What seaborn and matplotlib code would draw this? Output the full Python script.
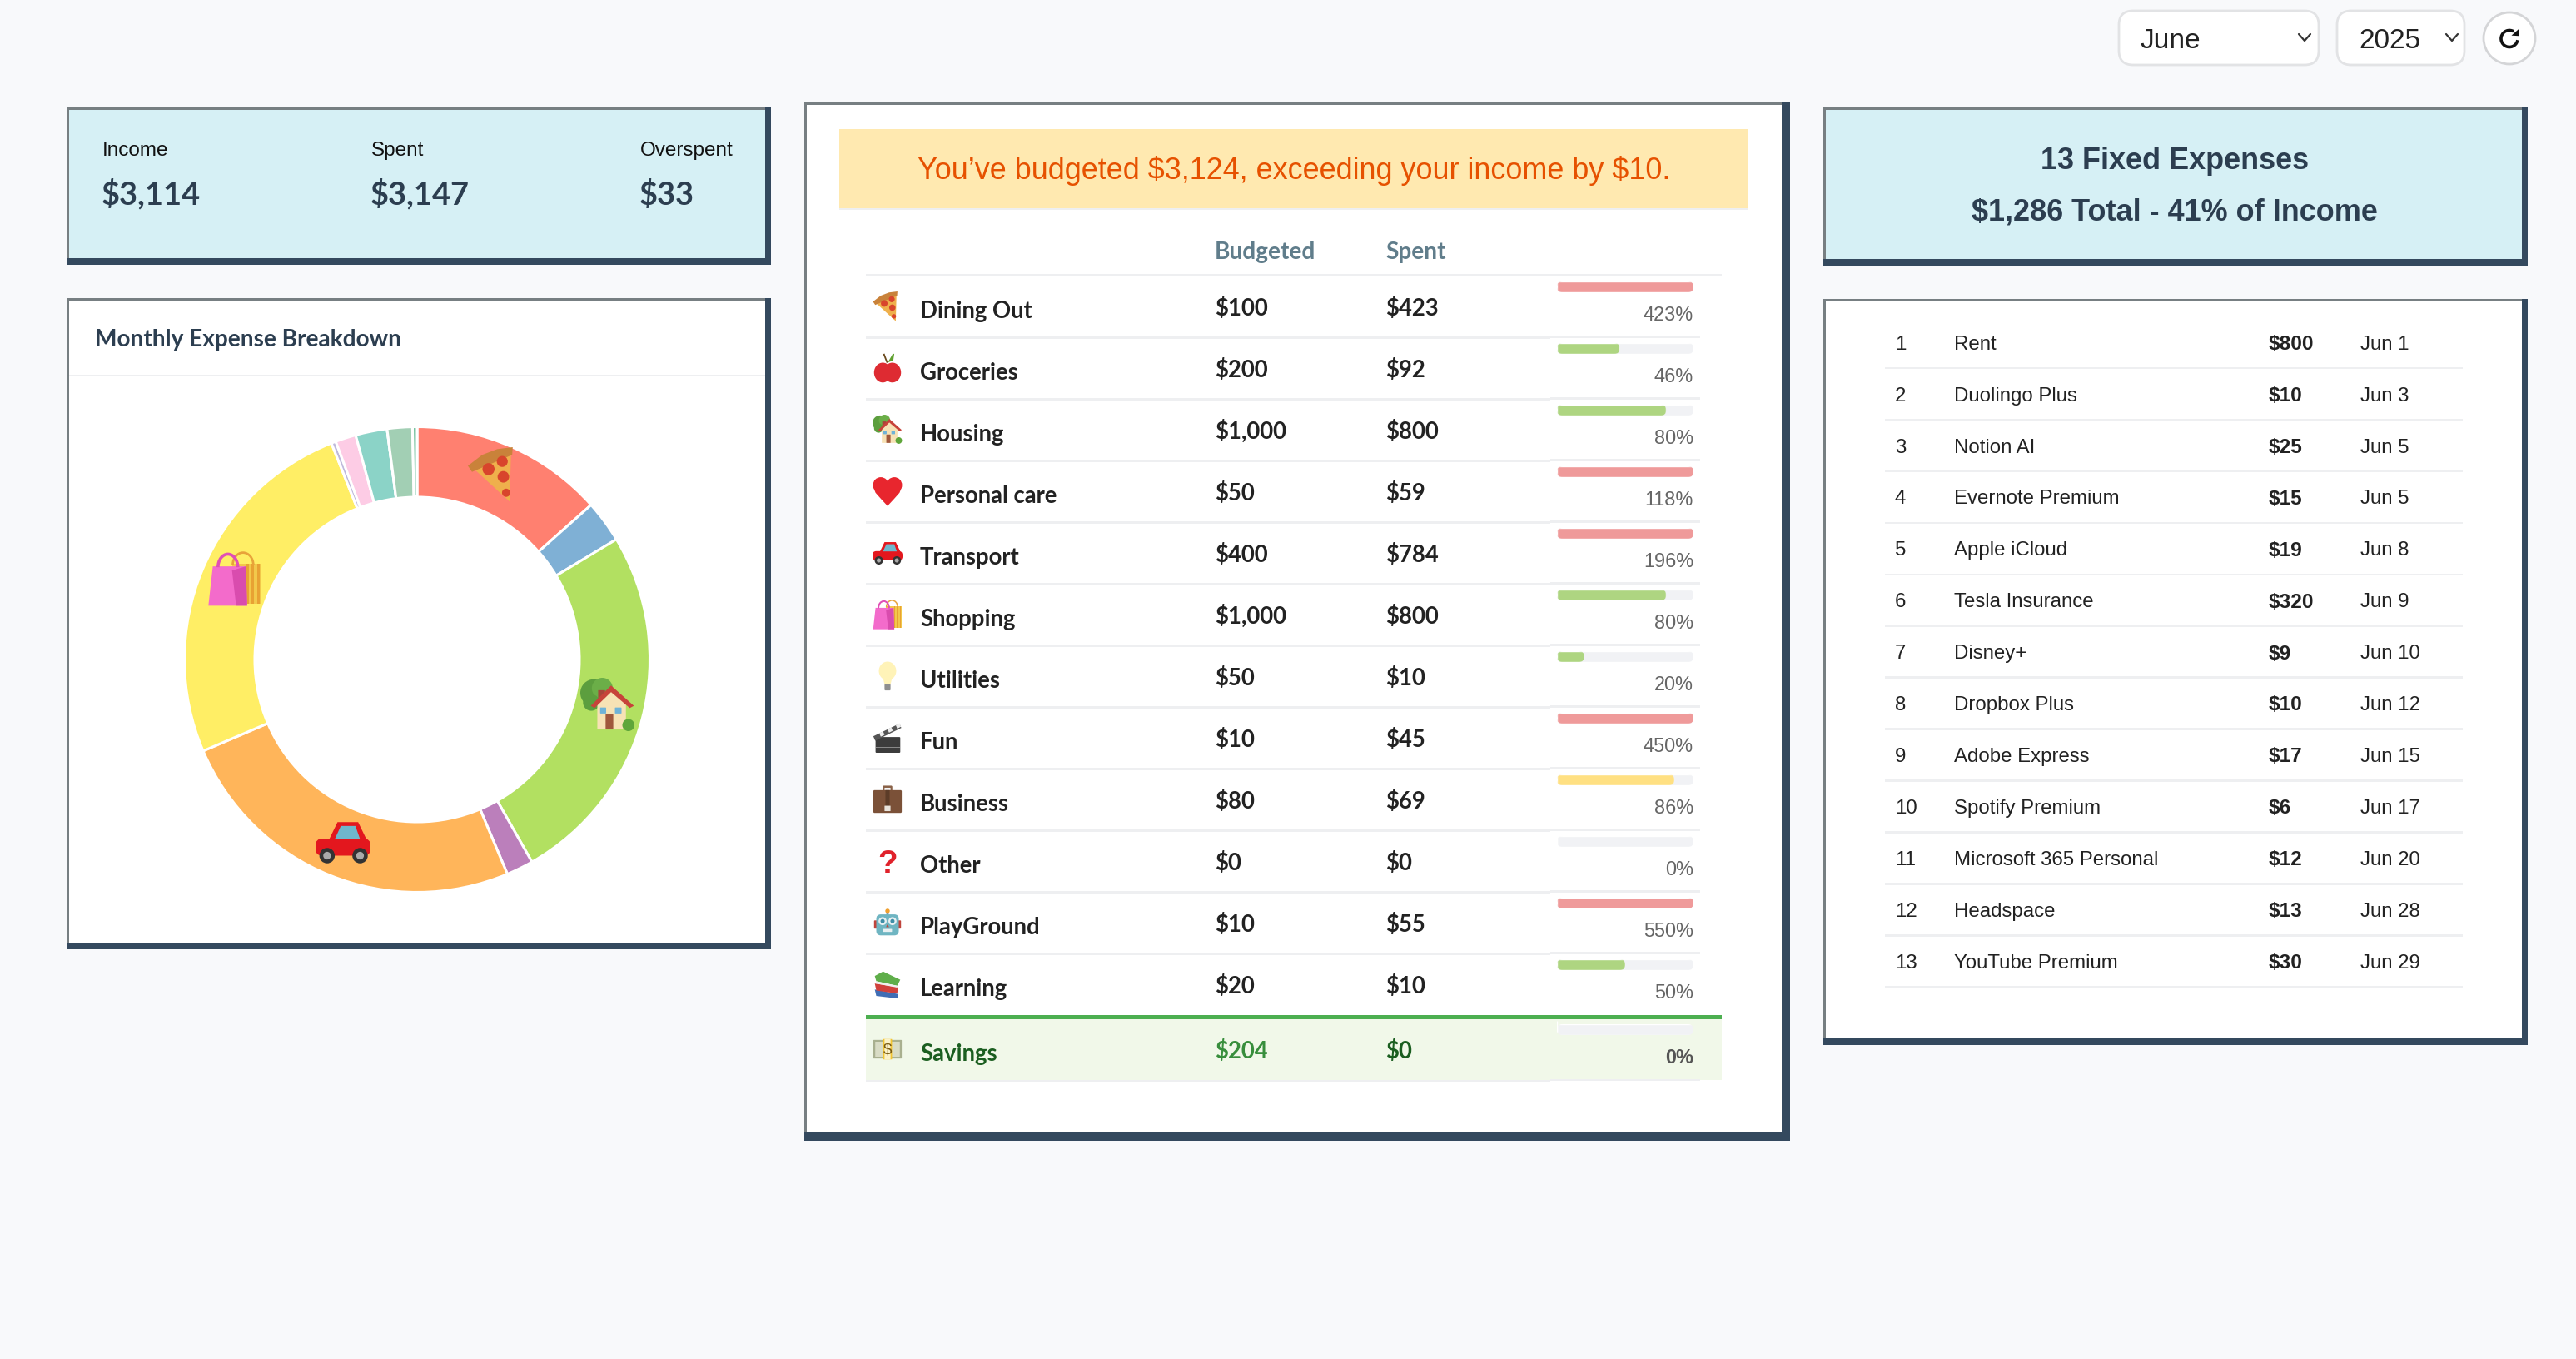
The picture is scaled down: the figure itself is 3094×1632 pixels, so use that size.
import matplotlib
matplotlib.use("Agg")
import matplotlib.pyplot as plt
import seaborn as sns
import pandas as pd
from matplotlib.lines import Line2D
from matplotlib.patches import Arc, Circle, Ellipse, FancyBboxPatch, Polygon, Rectangle
from matplotlib.transforms import IdentityTransform

# --------------------------------------------------------------------
# DATA
# --------------------------------------------------------------------
categories = ["Dining Out", "Groceries", "Housing", "Personal care", "Transport", "Shopping",
              "Utilities", "Fun", "Business", "Other", "PlayGround", "Learning", "Savings"]
icons = ["pizza", "apple", "house", "heart", "car", "bags", "bulb", "clapper", "case",
         "question", "robot", "books", "money"]
budgeted = [100, 200, 1000, 50, 400, 1000, 50, 10, 80, 0, 10, 20, 204]
spent = [423, 92, 800, 59, 784, 800, 10, 45, 69, 0, 55, 10, 0]
percent = [423, 46, 80, 118, 196, 80, 20, 450, 86, 0, 550, 50, 0]

slice_colors = ["#FF8070", "#7FB0D5", "#B2E061", "#BB7FBB", "#FFB55A", "#FFEE65",
                "#BEB9DB", "#FDCCE5", "#8BD3C7", "#C9C9C9", "#A2CFB4", "#78C2A0"]

kpi_labels = ["Income", "Spent", "Overspent"]
kpi_values = ["$3,114", "$3,147", "$33"]

fixed_names = ["Rent", "Duolingo Plus", "Notion AI", "Evernote Premium", "Apple iCloud",
               "Tesla Insurance", "Disney+", "Dropbox Plus", "Adobe Express", "Spotify Premium",
               "Microsoft 365 Personal", "Headspace", "YouTube Premium"]
fixed_amounts = [800, 10, 25, 15, 19, 320, 9, 10, 17, 6, 12, 13, 30]
fixed_dates = ["Jun 1", "Jun 3", "Jun 5", "Jun 5", "Jun 8", "Jun 9", "Jun 10", "Jun 12",
               "Jun 15", "Jun 17", "Jun 20", "Jun 28", "Jun 29"]

# --------------------------------------------------------------------
# SETUP
# --------------------------------------------------------------------
W, H = 3094, 1632
DARK = "#34495E"
NAVY = "#2C3E50"
LINE = "#EEEFF1"
ROW_H = 74

sns.set_theme(style="white")
plt.rcParams["font.family"] = ["Liberation Sans", "DejaVu Sans"]

fig = plt.figure(figsize=(W / 100, H / 100), dpi=100, facecolor="#F8F9FB")


def pixel_axes(zorder):
    ax = fig.add_axes([0, 0, 1, 1], zorder=zorder)
    ax.set_xlim(0, W)
    ax.set_ylim(H, 0)
    ax.axis("off")
    ax.patch.set_alpha(0)
    return ax


def sub_axes(x0, y0, x1, y1, zorder=1):
    return fig.add_axes([x0 / W, 1 - y1 / H, (x1 - x0) / W, (y1 - y0) / H], zorder=zorder)


bg = pixel_axes(0)
top = pixel_axes(5)


def txt(x, y, s, px, color="#222222", family="Liberation Sans", weight="normal", ha="left"):
    # y is the middle of the digits/capitals, px is the css-like font size in pixels
    top.text(x, y + 0.36 * px, s, fontsize=px * 0.72, color=color, family=family,
             fontweight=weight, ha=ha, va="baseline", parse_math=False)


def panel(x0, y0, x1, y1, fill):
    bg.add_patch(Rectangle((x0, y0), x1 - x0, y1 - y0, fc=fill, ec="none"))
    bg.add_patch(Rectangle((x0, y0), x1 - x0, 2.5, fc="#777F82", ec="none"))
    bg.add_patch(Rectangle((x0, y0), 2.5, y1 - y0, fc="#777F82", ec="none"))
    bg.add_patch(Rectangle((x1 - 7, y0), 7, y1 - y0, fc=DARK, ec="none"))
    bg.add_patch(Rectangle((x0, y1 - 8), x1 - x0, 8, fc=DARK, ec="none"))


def hline(x0, x1, y, color=LINE, lw=3):
    bg.add_patch(Rectangle((x0, y - lw / 2), x1 - x0, lw, fc=color, ec="none"))


# --------------------------------------------------------------------
# ICONS (no colour emoji font here, so they are drawn)
# --------------------------------------------------------------------
def draw_icon(name, cx, cy, s, zorder=6):
    def poly(pts, c):
        top.add_patch(Polygon([(cx + s * x, cy + s * y) for x, y in pts], fc=c, ec="none", zorder=zorder))

    def disc(x, y, rx, c, ry=None):
        top.add_patch(Ellipse((cx + s * x, cy + s * y), 2 * s * rx, 2 * s * (ry or rx), fc=c, ec="none", zorder=zorder))

    def box(x0, y0, x1, y1, c, r=0.08):
        top.add_patch(FancyBboxPatch((cx + s * x0, cy + s * y0), s * (x1 - x0), s * (y1 - y0),
                                     boxstyle=f"round,pad=0,rounding_size={s * r}", fc=c, ec="none", zorder=zorder))

    if name == "pizza":
        poly([(-0.85, -0.3), (0.6, -0.9), (0.55, 0.98)], "#EFB04C")
        poly([(-0.97, -0.32), (-0.45, -0.72), (0.1, -0.93), (0.66, -1.0), (0.64, -0.72), (-0.82, -0.1)], "#C9823A")
        disc(-0.22, -0.2, 0.22, "#D8452C")
        disc(0.28, -0.48, 0.2, "#D8452C")
        disc(0.32, 0.08, 0.21, "#D8452C")
        disc(0.42, 0.66, 0.15, "#D8452C")
    elif name == "apple":
        disc(-0.32, 0.3, 0.58, "#DE2B32", 0.66)
        disc(0.32, 0.3, 0.58, "#DE2B32", 0.66)
        poly([(-0.3, -0.93), (-0.2, -0.97), (0.03, -0.35), (-0.07, -0.35)], "#6B4A1E")
        poly([(0.02, -0.38), (0.35, -0.95), (0.45, -0.95), (0.38, -0.5)], "#5FA02E")
    elif name == "house":
        disc(-0.5, -0.45, 0.5, "#5C9E3E")
        disc(-0.2, -0.62, 0.38, "#6BAE48")
        disc(-0.6, -0.1, 0.3, "#5C9E3E")
        box(-0.35, -0.55, -0.1, -0.1, "#A8443A", 0.01)
        poly([(-0.38, 0.88), (-0.38, -0.1), (0.12, -0.55), (0.66, -0.1), (0.66, 0.88)], "#F7E2B5")
        poly([(-0.62, 0.02), (0.12, -0.72), (0.95, 0.02), (0.8, 0.1), (0.12, -0.48), (-0.48, 0.1)], "#C7433A")
        box(-0.08, 0.32, 0.2, 0.88, "#A0583C", 0.02)
        box(-0.28, 0.08, -0.06, 0.3, "#6FB3D8", 0.02)
        box(0.26, 0.08, 0.5, 0.3, "#6FB3D8", 0.02)
        disc(0.75, 0.72, 0.22, "#5FA63A")
    elif name == "heart":
        disc(-0.45, -0.42, 0.52, "#E8262E")
        disc(0.45, -0.42, 0.52, "#E8262E")
        poly([(-0.96, -0.3), (-0.8, 0.1), (-0.4, 0.55), (0.0, 0.98), (0.4, 0.55), (0.8, 0.1), (0.96, -0.3), (0, -0.4)], "#E8262E")
    elif name == "car":
        box(-1.0, -0.12, 1.0, 0.5, "#E3171E", 0.25)
        poly([(-0.55, 0.0), (-0.2, -0.72), (0.55, -0.72), (0.85, -0.1), (0.9, 0.1)], "#E3171E")
        poly([(-0.3, -0.1), (-0.08, -0.58), (0.45, -0.58), (0.62, -0.1)], "#6FB7CC")
        disc(-0.58, 0.5, 0.28, "#333333")
        disc(0.62, 0.5, 0.28, "#333333")
        disc(-0.58, 0.5, 0.14, "#AAAAAA")
        disc(0.62, 0.5, 0.14, "#AAAAAA")
    elif name == "bags":
        poly([(-0.1, -0.55), (0.95, -0.55), (0.95, 0.9), (-0.1, 0.9)], "#F2C84B")
        for i in range(3):
            poly([(0.42 + i * 0.2, -0.55), (0.5 + i * 0.2, -0.55), (0.5 + i * 0.2, 0.9), (0.42 + i * 0.2, 0.9)], "#E8A233")
        top.add_patch(Arc((cx + s * 0.3, cy - s * 0.5), s * 0.75, s * 0.9, theta1=180, theta2=360,
                          color="#E8A33A", lw=s * 0.06, zorder=zorder))
        poly([(-0.8, -0.45), (0.4, -0.45), (0.45, 0.98), (-0.96, 0.98)], "#F36BCB")
        poly([(-0.1, -0.3), (0.4, -0.45), (0.45, 0.98), (0.05, 0.98)], "#D94CAE")
        top.add_patch(Arc((cx - s * 0.25, cy - s * 0.42), s * 0.72, s * 0.95, theta1=180, theta2=360,
                          color="#E04FB5", lw=s * 0.08, zorder=zorder))
    elif name == "bulb":
        disc(0, -0.35, 0.58, "#FFF3B8", 0.62)
        poly([(-0.32, 0.05), (0.32, 0.05), (0.2, 0.55), (-0.2, 0.55)], "#FFF3B8")
        box(-0.2, 0.53, 0.2, 0.95, "#8E8E8E", 0.06)
    elif name == "clapper":
        box(-0.8, -0.05, 0.85, 1.0, "#3C3C3C", 0.06)
        poly([(-0.95, -0.1), (0.8, -0.95), (0.92, -0.66), (-0.82, 0.2)], "#555555")
        for i in range(3):
            u = -0.55 + i * 0.55
            poly([(u, -0.3 - i * 0.27), (u + 0.25, -0.43 - i * 0.27), (u + 0.35, -0.2 - i * 0.27), (u + 0.1, -0.07 - i * 0.27)], "#EEEEEE")
        poly([(-0.8, 0.6), (0.85, 0.6), (0.85, 0.66), (-0.8, 0.66)], "#888888")
    elif name == "case":
        box(-0.32, -0.92, 0.32, -0.45, "#8A6248", 0.08)
        box(-0.2, -0.78, 0.2, -0.45, "#F5F5F5", 0.02)
        box(-0.95, -0.62, 0.95, 0.9, "#7B5138", 0.08)
        box(-0.14, -0.62, 0.14, 0.5, "#5C3C28", 0.01)
        box(-0.2, 0.42, 0.2, 0.78, "#E8E4DC", 0.02)
    elif name == "question":
        top.text(cx, cy + 0.78 * s, "?", fontsize=s * 1.55, color="#E0222B", fontweight="bold",
                 ha="center", va="baseline", zorder=zorder)
    elif name == "robot":
        box(-0.08, -0.8, 0.08, -0.5, "#8A9AA0", 0.02)
        disc(0, -0.78, 0.15, "#F0A030")
        box(-0.9, -0.15, -0.7, 0.4, "#C0453C", 0.05)
        box(0.7, -0.15, 0.9, 0.4, "#C0453C", 0.05)
        box(-0.75, -0.55, 0.75, 0.85, "#6FB5C2", 0.3)
        disc(-0.33, -0.1, 0.27, "#E8F0F2")
        disc(0.33, -0.1, 0.27, "#E8F0F2")
        disc(-0.33, -0.1, 0.14, "#3E8FA8")
        disc(0.33, -0.1, 0.14, "#3E8FA8")
        poly([(0, 0.1), (0.1, 0.3), (-0.1, 0.3)], "#C0453C")
        box(-0.3, 0.42, 0.3, 0.62, "#E8F0F2", 0.03)
    elif name == "books":
        poly([(-0.85, 0.35), (0.7, 0.65), (0.68, 0.95), (-0.75, 0.78)], "#3F6DB5")
        poly([(-0.85, -0.05), (0.7, 0.2), (0.65, 0.62), (-0.75, 0.42)], "#D0413C")
        poly([(-0.85, -0.55), (-0.3, -0.85), (0.85, -0.3), (0.65, 0.1), (-0.75, -0.2)], "#5FAE4A")
        poly([(-0.75, -0.2), (0.65, 0.1), (0.65, 0.22), (-0.8, -0.05)], "#EFEFEF")
    elif name == "money":
        box(-0.95, -0.62, 0.95, 0.62, "#A9B08F", 0.04)
        box(-0.82, -0.5, 0.82, 0.5, "#D9DCC5", 0.02)
        box(-0.3, -0.68, 0.3, 0.68, "#F3C531", 0.02)
        box(-0.2, -0.68, 0.2, 0.68, "#FBF2C8", 0.01)
        top.text(cx, cy + 0.3 * s, "$", fontsize=s * 0.75, color="#7A5A10", ha="center", va="baseline",
                 zorder=zorder + 1, parse_math=False)


# --------------------------------------------------------------------
# TOP CONTROLS
# --------------------------------------------------------------------
for x0, x1, label, tx, chev in [(2545, 2785, "June", 2571, 2768), (2807, 2960, "2025", 2833, 2945)]:
    bg.add_patch(FancyBboxPatch((x0, 13), x1 - x0, 65, boxstyle="round,pad=0,rounding_size=17",
                                fc="white", ec="#E2E3E5", lw=2))
    txt(tx, 46, label, 33.5, color="#222222")
    top.add_line(Line2D([chev - 7, chev, chev + 7], [41, 49, 41], color="#333333", lw=1.6))

bg.add_patch(Circle((3014, 46), 31, fc="white", ec="#D4D5D7", lw=2))
top.add_patch(Arc((3014, 46.5), 20, 20, theta1=10, theta2=300, color="#111111", lw=2.6))
top.add_patch(Polygon([(3016.5, 42.7), (3026, 34.3), (3026, 43.3)], fc="#111111", ec="none"))

# --------------------------------------------------------------------
# LEFT COLUMN
# --------------------------------------------------------------------
panel(80, 129, 926, 318, "#D6F0F5")
for x, lab, val in zip([123, 446, 769], kpi_labels, kpi_values):
    txt(x, 178, lab, 24.2, color="#111111")
    txt(x - 1, 232, val, 38, color=NAVY, family="Lato", weight="bold")

panel(80, 358, 926, 1140, "white")
txt(114, 406, "Monthly Expense Breakdown", 28, color=NAVY, family="Lato", weight="bold")
hline(83, 919, 451, lw=2.5)

pie_r = 279.5
ax_pie = sub_axes(501 - pie_r, 792 - pie_r, 501 + pie_r, 792 + pie_r)
ax_pie.pie(spent[:-1], colors=sns.color_palette(slice_colors), startangle=90, counterclock=False,
           radius=1, wedgeprops=dict(width=(pie_r - 195) / pie_r, edgecolor="white", linewidth=2.2))
ax_pie.set_xlim(-1, 1)
ax_pie.set_ylim(-1, 1)
ax_pie.patch.set_alpha(0)

draw_icon("pizza", 594, 570, 33)
draw_icon("bags", 282, 695, 33)
draw_icon("house", 730, 847, 33)
draw_icon("car", 412, 1011, 33)

# --------------------------------------------------------------------
# MIDDLE COLUMN
# --------------------------------------------------------------------
panel(966, 123, 2150, 1370, "white")
bg.add_patch(Rectangle((2140, 123), 10, 1247, fc=DARK, ec="none"))
bg.add_patch(Rectangle((966, 1360), 1184, 10, fc=DARK, ec="none"))

bg.add_patch(Rectangle((1008, 155), 1092, 95, fc="#FFE9B0", ec="none"))
hline(1008, 2100, 251, lw=2.5)
txt(1554, 202, "You\u2019ve budgeted $3,124, exceeding your income by $10.", 36, color="#E65100", ha="center")

txt(1459, 301, "Budgeted", 28, color="#607D8B", family="Lato", weight="bold")
txt(1664, 301, "Spent", 28, color="#607D8B", family="Lato", weight="bold")
hline(1040, 2068, 330)

bg.add_patch(Rectangle((1040, 1221), 1028, 76, fc="#F1F8E9", ec="none"))
for i, (name, icon, b, s, p) in enumerate(zip(categories, icons, budgeted, spent, percent)):
    row_y = 369 + ROW_H * i
    savings = name == "Savings"
    if savings:
        row_y = 1261
        hline(1040, 2068, 1221, color="#4CAF50", lw=5)
    line_y = 405 + ROW_H * i
    if not savings:
        if i < 11:
            hline(1040, 1862, line_y)
            hline(1862, 2042, line_y - 1)
    else:
        hline(1040, 1862, 1298, lw=2.5)
        hline(1862, 2042, 1297, lw=2.5)
    draw_icon(icon, 1066, row_y - 1, 18)
    name_c = "#1B5E20" if savings else "#222222"
    txt(1105, row_y + 3, name, 27.5, color=name_c, family="Lato", weight="bold")
    txt(1459, row_y, f"${b:,}", 27.5, color="#388E3C" if savings else "#222222", family="Lato", weight="bold")
    txt(1664, row_y, f"${s:,}", 27.5, color=name_c, family="Lato", weight="bold")
    txt(2034, row_y + 8, f"{p}%", 23.5, color="#555555" if savings else "#666666",
        weight="bold" if savings else "normal", ha="right")

# progress bars
df = pd.DataFrame({"category": categories, "pct": [min(p, 100) for p in percent], "track": 100})
bar_palette = {c: "#EF9A9A" if p > 100 else "#FFE082" if p >= 85 else "#AED581"
               for c, p in zip(categories, percent)}
ax_bars = sub_axes(1870, 344.5 - ROW_H / 2, 2034, 344.5 + 12.5 * ROW_H)
sns.barplot(data=df, x="track", y="category", color="#F1F2F5", saturation=1, width=13 / ROW_H, ax=ax_bars)
sns.barplot(data=df, x="pct", y="category", hue="category", palette=bar_palette, saturation=1,
            width=13 / ROW_H, dodge=False, legend=False, ax=ax_bars)
ax_bars.set_xlim(0, 100)
ax_bars.set_ylim(len(categories) - 0.5, -0.5)
ax_bars.axis("off")
ax_bars.patch.set_alpha(0)

# savings track sits a little lower because of its thick top border
ax_bars.patches[len(categories) - 1].set_y(ax_bars.patches[len(categories) - 1].get_y() + 4 / ROW_H)
fig.canvas.draw()
for bar in ax_bars.patches:
    if bar.get_width() <= 0:
        continue
    (x0, y0), (x1, y1) = ax_bars.transData.transform(
        [(bar.get_x(), bar.get_y()), (bar.get_x() + bar.get_width(), bar.get_y() + bar.get_height())])
    y0, y1 = min(y0, y1), max(y0, y1)
    clip = FancyBboxPatch((x0, y0), x1 - x0, y1 - y0, boxstyle=f"round,pad=0,rounding_size={(y1 - y0) / 2}",
                          transform=IdentityTransform())
    bar.set_clip_path(clip)

# --------------------------------------------------------------------
# RIGHT COLUMN
# --------------------------------------------------------------------
panel(2190, 129, 3036, 319, "#D6F0F5")
txt(2612, 190, "13 Fixed Expenses", 36, color=NAVY, weight="bold", ha="center")
txt(2612, 252, "$1,286 Total - 41% of Income", 36, color=NAVY, weight="bold", ha="center")

panel(2190, 359, 3036, 1255, "white")
for i, (name, amount, date) in enumerate(zip(fixed_names, fixed_amounts, fixed_dates)):
    y = 411 + 61.95 * i
    txt(2276, y, str(i + 1), 24)
    txt(2347, y, name, 24)
    txt(2725, y, f"${amount}", 24.5, weight="bold")
    txt(2835, y, date, 24)
    hline(2264, 2958, y + 31, lw=2.5)

fig.savefig("out.png", dpi=100, facecolor=fig.get_facecolor())
